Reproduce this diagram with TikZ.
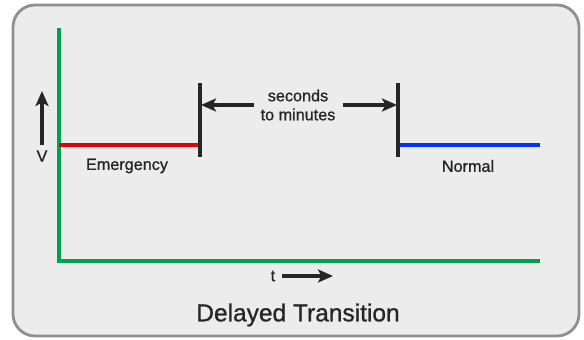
\documentclass[tikz,border=0pt]{standalone}
\usepackage{fontspec}
\setmainfont{Liberation Sans}[BoldFont=Liberation Sans, BoldFeatures={FakeBold=0.9}]
\usetikzlibrary{arrows.meta}
\definecolor{framegray}{HTML}{8F8F8F}
\definecolor{panel}{HTML}{ECECEC}
\definecolor{axisgreen}{HTML}{00A04E}
\definecolor{emred}{HTML}{E00010}
\definecolor{nmblue}{HTML}{0033FF}
\definecolor{txt}{HTML}{262626}
\tikzset{
  axisline/.style={draw=axisgreen, line width=3.6pt},
  levelline/.style={line width=3.8pt},
  marker/.style={draw=txt, line width=3.2pt},
  arr/.style={draw=txt, line width=3.2pt, -{Stealth[length=15pt,width=13pt,inset=3.5pt]}},
  lbl/.style={text=txt, font=\fontsize{16.2}{19}\selectfont\bfseries, inner sep=0pt, align=center},
  ttl/.style={text=txt, font=\fontsize{24.5}{28}\selectfont\bfseries, inner sep=0pt},
}
\begin{document}
\begin{tikzpicture}[x=1pt,y=-1pt]
\useasboundingbox (0,0) rectangle (584,340);
\draw[framegray, line width=2.8pt, fill=panel, rounded corners=22pt] (13,5) rectangle (579,336);
% axes
\coordinate (ytop) at (59,28);
\coordinate (orig) at (59,261);
\coordinate (xend) at (540,261);
\draw[axisline] (ytop) -- (orig) -- (xend);
% levels
\coordinate (rs) at (59,145);
\coordinate (re) at (199,145);
\coordinate (bs) at (398,145);
\coordinate (be) at (540,145);
\draw[levelline, emred] (rs) -- (re);
\draw[levelline, nmblue] (bs) -- (be);
% markers
\coordinate (m1t) at (200,83);
\coordinate (m1b) at (200,157);
\coordinate (m2t) at (398,83);
\coordinate (m2b) at (398,157);
\draw[marker] (m1t) -- (m1b);
\draw[marker] (m2t) -- (m2b);
% interval label and arrows
\node[lbl] (sec) at (298,105) {seconds\\to minutes};
\coordinate (la) at (254,105);
\coordinate (lt) at (201,105);
\coordinate (ra) at (343,105);
\coordinate (rt) at (397,105);
\draw[arr] (la) -- (lt);
\draw[arr] (ra) -- (rt);
% V arrow
\coordinate (vb) at (42,145);
\coordinate (vt) at (42,91);
\draw[arr] (vb) -- (vt);
\node[lbl] (vlab) at (42,156) {V};
% labels
\node[lbl] (em) at (127,166) {Emergency};
\node[lbl] (nm) at (468,166) {Normal};
% t arrow
\node[lbl] (tlab) at (273,276) {t};
\coordinate (ts) at (282,276);
\coordinate (te) at (333,276);
\draw[arr] (ts) -- (te);
% title
\node[ttl] (title) at (298,315) {Delayed Transition};
\end{tikzpicture}
\end{document}
